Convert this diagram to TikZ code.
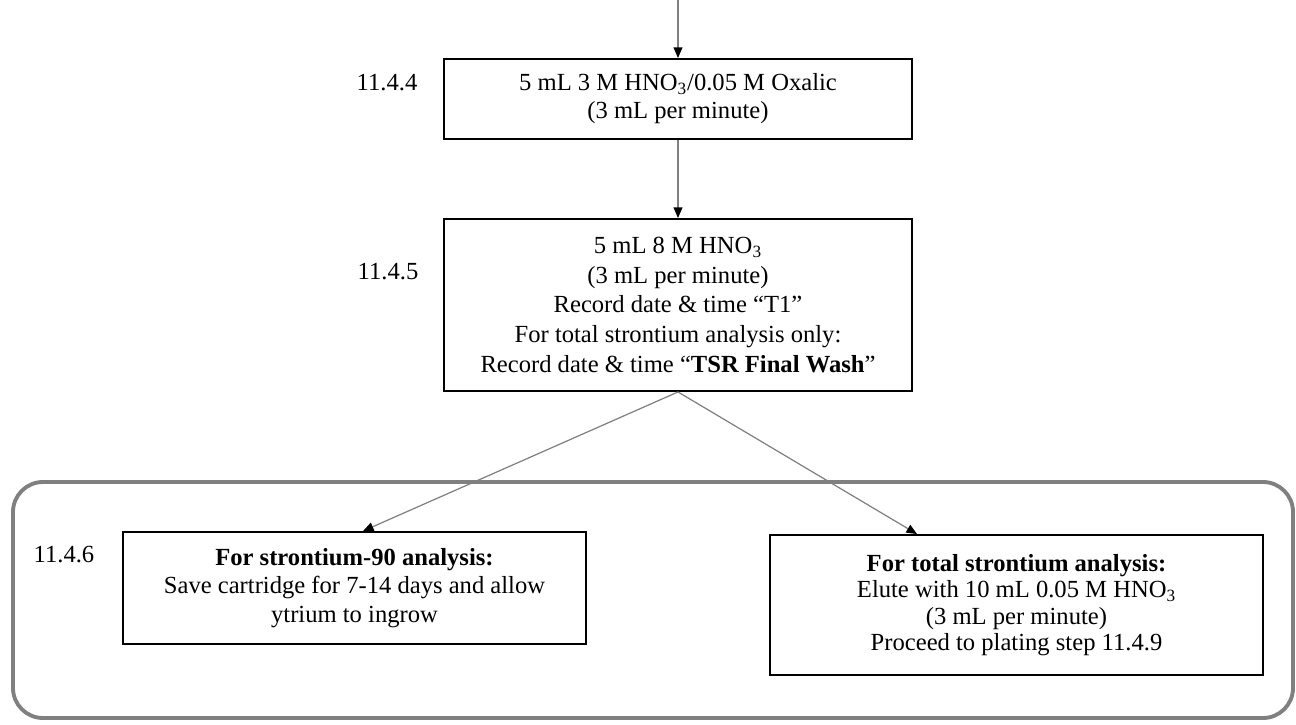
\documentclass[tikz,border=0pt]{standalone}
\usepackage{fontspec}
\setmainfont{Liberation Serif}
\usetikzlibrary{arrows.meta}
\begin{document}
\begin{tikzpicture}[font=\fontsize{14}{16}\selectfont,
	box/.style={draw,line width=1.1pt,align=center,inner sep=0pt},
	arr/.style={-{Triangle[length=6pt,width=5pt,black]},gray,line width=0.7pt}]
	\useasboundingbox(0,0)rectangle(25.92,14.48);
	\draw[line width=2.2pt,black!50,rounded corners=0.6cm](0.26,0.12)rectangle(25.86,4.84);
	\node[box,minimum width=9.36cm,minimum height=1.6cm](oxalic)at(13.56,12.5)
		{5 mL 3 M HNO\textsubscript{3}/0.05 M Oxalic\\(3 mL per minute)};
	\node[box,minimum width=9.36cm,minimum height=3.44cm](wash)at(13.56,8.38)
		{5 mL 8 M HNO\textsubscript{3}\\[1pt](3 mL per minute)\\[1pt]Record date \& time ``T1''\\[1pt]
		For total strontium analysis only:\\[1pt]Record date \& time ``\textbf{TSR Final Wash}''};
	\node[box,minimum width=9.26cm,minimum height=2.24cm](srninety)at(7.09,2.72)
		{\textbf{For strontium-90 analysis:}\\Save cartridge for 7-14 days and allow\\ytrium to ingrow};
	\node[box,minimum width=9.86cm,minimum height=2.8cm](srtotal)at(20.33,2.38)
		{\textbf{For total strontium analysis:}\\[-1pt]Elute with 10 mL 0.05 M HNO\textsubscript{3}\\[-1pt](3 mL per minute)\\[-1pt]Proceed to plating step 11.4.9};
	\node(s4)at(7.74,12.82){11.4.4};
	\node(s5)at(7.76,9.04){11.4.5};
	\node(s6)at(1.28,3.38){11.4.6};
	\coordinate(in)at(13.56,14.48);
	\draw[arr](in)--(oxalic.north);
	\draw[arr](oxalic.south)--(wash.north);
	\draw[arr](wash.south)--([xshift=0.17cm]srninety.north);
	\draw[arr](wash.south)--([xshift=-1.99cm]srtotal.north);
\end{tikzpicture}
\end{document}
